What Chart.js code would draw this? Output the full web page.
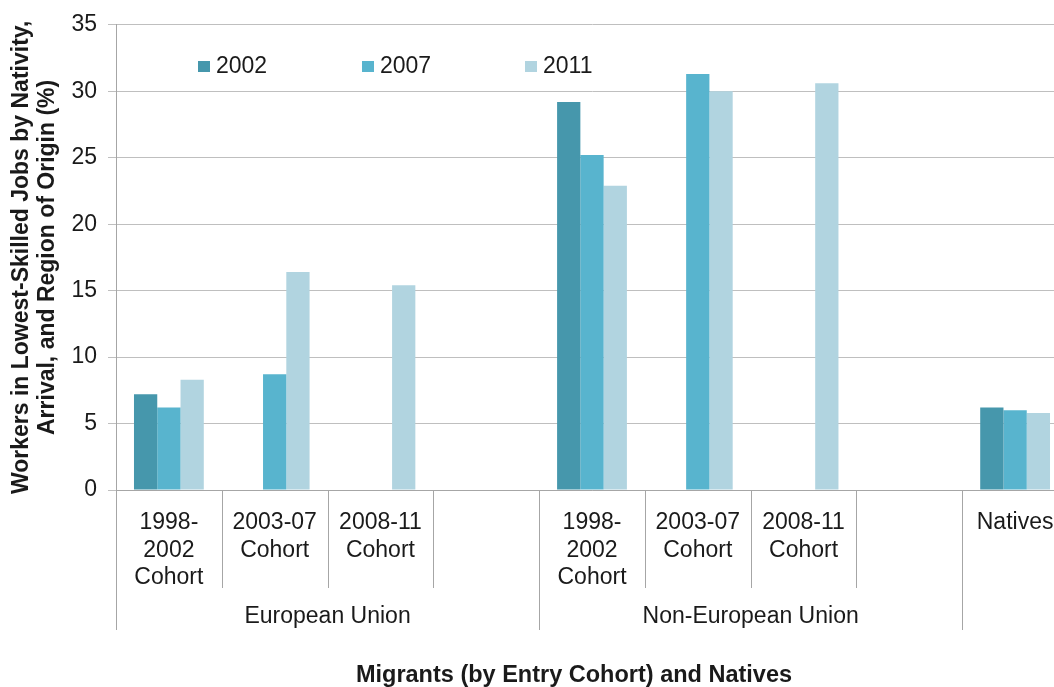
<!DOCTYPE html>
<html>
<head>
<meta charset="utf-8">
<script src="https://cdn.jsdelivr.net/npm/chart.js@4"></script>
<style>
  html, body { margin: 0; padding: 0; background: #fff; overflow: hidden; }
  #wrap { width: 1080px; height: 687px; }
</style>
</head>
<body>
<div id="wrap"><canvas id="chart" width="1080" height="687"></canvas></div>
<script>
"use strict"

// kategorier (flerradiga etiketter) och grupper
const categories = [
  ['1998-', '2002', 'Cohort'], ['2003-07', 'Cohort'], ['2008-11', 'Cohort'], '',
  ['1998-', '2002', 'Cohort'], ['2003-07', 'Cohort'], ['2008-11', 'Cohort'], '',
  'Natives'
]
const groups = ['European Union', 'Non-European Union', '']
const groupSpans = [4, 4, 1]

const seriesNames = ['2002', '2007', '2011']
const values2002 = [7.2, null, null, null, 29.2, null, null, null, 6.2]
const values2007 = [6.2, 8.7, null, null, 25.2, 31.3, null, null, 6.0]
const values2011 = [8.3, 16.4, 15.4, null, 22.9, 30.0, 30.6, null, 5.8]

const yTicks = [0, 5, 10, 15, 20, 25, 30, 35]

const colors = ['#4697ac', '#58b4ce', '#b1d4e0']
const font = "'Liberation Sans', Arial, sans-serif"
const textColor = '#1a1a1a'

// ritar legend, grupp-etiketter, avskiljare och axeltitlar
const extras = {
  id: 'extras',
  afterDraw(chart) {
    const ctx = chart.ctx
    const area = chart.chartArea
    const x = chart.scales.x
    const step = (area.right - area.left) / categories.length
    ctx.save()

    // legend inne i diagrammet
    const legendX = [198, 362, 525]
    ctx.font = '23px ' + font
    ctx.textBaseline = 'middle'
    ctx.textAlign = 'left'
    seriesNames.forEach((name, i) => {
      ctx.fillStyle = colors[i]
      ctx.fillRect(legendX[i], 61, 12, 11)
      ctx.fillStyle = textColor
      ctx.fillText(name, legendX[i] + 18, 67)
    })

    // avskiljare mellan kategorier och grupper
    ctx.strokeStyle = '#a6a6a6'
    ctx.lineWidth = 1
    let groupStarts = [0]
    groupSpans.reduce((acc, n) => { groupStarts.push(acc + n); return acc + n }, 0)
    for (let i = 0; i <= categories.length; i++) {
      const px = Math.round(x.getPixelForValue(i) - step / 2) + 0.5
      const long = groupStarts.includes(i)
      ctx.beginPath()
      ctx.moveTo(px, area.bottom)
      ctx.lineTo(px, long ? 630 : 588)
      ctx.stroke()
    }

    // grupp-etiketter
    ctx.textAlign = 'center'
    ctx.fillStyle = textColor
    ctx.font = '23px ' + font
    let start = 0
    groups.forEach((g, i) => {
      const left = x.getPixelForValue(start) - step / 2
      const right = x.getPixelForValue(start + groupSpans[i] - 1) + step / 2
      if (g) ctx.fillText(g, (left + right) / 2, 617)
      start += groupSpans[i]
    })

    // x-axelns titel
    ctx.font = 'bold 23.5px ' + font
    ctx.fillText('Migrants (by Entry Cohort) and Natives', 574, 676)

    // y-axelns titel
    ctx.font = 'bold 23px ' + font
    ctx.translate(35, (area.top + area.bottom) / 2)
    ctx.rotate(-Math.PI / 2)
    ctx.fillText('Workers in Lowest-Skilled Jobs by Nativity,', 0, -13)
    ctx.fillText('Arrival, and Region of Origin (%)', 0, 13)
    ctx.restore()
  }
}

const ctx = document.getElementById('chart').getContext('2d')
new Chart(ctx, {
  type: 'bar',
  data: {
    labels: categories,
    datasets: [
      { label: seriesNames[0], data: values2002, backgroundColor: colors[0] },
      { label: seriesNames[1], data: values2007, backgroundColor: colors[1] },
      { label: seriesNames[2], data: values2011, backgroundColor: colors[2] }
    ]
  },
  options: {
    responsive: false,
    animation: false,
    devicePixelRatio: 1,
    layout: { padding: { top: 22, right: 12, bottom: 0, left: 0 } },
    datasets: { bar: { categoryPercentage: 0.66, barPercentage: 1, skipNull: false } },
    plugins: { legend: { display: false }, tooltip: { enabled: false } },
    scales: {
      x: {
        grid: { display: false },
        border: { display: true, color: '#a6a6a6' },
        ticks: {
          maxRotation: 0,
          autoSkip: false,
          padding: 11,
          color: textColor,
          font: { family: font, size: 23, lineHeight: 1.2 }
        },
        afterFit(scale) { scale.height = 197 }
      },
      y: {
        min: 0,
        max: 35,
        afterBuildTicks(scale) { scale.ticks = yTicks.map(v => ({ value: v })) },
        grid: { color: '#bfbfbf', tickLength: 8, drawTicks: true },
        border: { display: true, color: '#a6a6a6' },
        ticks: {
          padding: 11,
          color: textColor,
          font: { family: font, size: 23 }
        },
        afterFit(scale) { scale.width = 116 }
      }
    }
  },
  plugins: [extras]
})
</script>
</body>
</html>
